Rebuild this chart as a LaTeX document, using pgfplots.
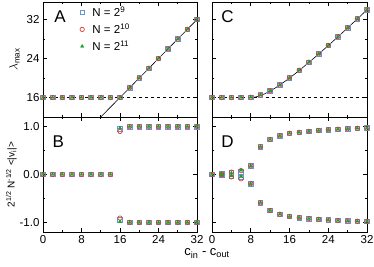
\documentclass[border=0pt]{standalone}
\usepackage{pgfplots}
\pgfplotsset{compat=1.18}
\usepackage{fontspec}
\setmainfont{Liberation Sans}
\definecolor{sqblue}{RGB}{100,150,215}
\definecolor{circred}{RGB}{225,55,55}
\definecolor{trigreen}{RGB}{30,160,40}
\pgfplotsset{
  panel/.style={
    scale only axis, width=154pt, height=115pt,
    xmin=0, xmax=32, xtick={0,8,16,24,32}, minor x tick num=1,
    tick align=inside, tick pos=both,
    major tick length=4pt, minor tick length=2.2pt,
    axis line style={line width=0.9pt}, every tick/.style={line width=0.7pt, black},
    tick label style={font=\fontsize{11.5}{13}\selectfont},
    /pgf/number format/assume math mode=true,
    clip=false,
  },
  s1/.style={only marks, mark=square, mark size=2.3pt, color=sqblue, line width=0.7pt},
  s2/.style={only marks, mark=o, mark size=2.2pt, color=circred, line width=0.7pt},
  s3/.style={only marks, mark=triangle*, mark size=1.9pt, color=trigreen},
}
\begin{document}
\begin{tikzpicture}[x=1pt,y=1pt]
\useasboundingbox (0,0) rectangle (374,266);
% Panel A
\begin{axis}[panel, at={(43pt,149pt)}, anchor=south west,
  ymin=12, ymax=35.6, ytick={16,24,32}, minor y tick num=1, xticklabels={},
  ylabel={$\lambda_{\mathrm{max}}$}, ylabel style={at={(axis description cs:-0.185,0.5)}, anchor=center, font=\fontsize{12}{14}\selectfont},
  legend style={draw=none, fill=none, at={(axis cs:7.0,35.5)}, anchor=north west, font=\fontsize{11.5}{14}\selectfont, row sep=1.5pt, column sep=6pt},
  legend cell align=left]
\addplot[s1] coordinates {(0,16)(2,16)(4,16)(6,16)(8,16)(10,16)(12,16)(14,16)(16,16)(18,18)(20,20)(22,22)(24,24)(26,26)(28,28)(30,30)(32,32)};
\addlegendentry{N = 2\textsuperscript{9}}
\addplot[s2] coordinates {(0,16)(2,16)(4,16)(6,16)(8,16)(10,16)(12,16)(14,16)(16,16)(18,18)(20,20)(22,22)(24,24)(26,26)(28,28)(30,30)(32,32)};
\addlegendentry{N = 2\textsuperscript{10}}
\addplot[s3] coordinates {(0,16)(2,16)(4,16)(6,16)(8,16)(10,16)(12,16)(14,16)(16,16)(18,18)(20,20)(22,22)(24,24)(26,26)(28,28)(30,30)(32,32)};
\addlegendentry{N = 2\textsuperscript{11}}
\addplot[black, dashed, line width=0.6pt, forget plot] coordinates {(0,16)(32,16)};
\addplot[black, line width=0.6pt, forget plot] coordinates {(12,12)(32,32)};
\node[font=\fontsize{17}{17}\selectfont] at (axis description cs:0.11,0.87) {A};
\end{axis}
% Panel B
\begin{axis}[panel, at={(43pt,34pt)}, anchor=south west,
  ymin=-1.2, ymax=1.2, ytick={-1,0,1}, minor y tick num=1,
  yticklabel style={/pgf/number format/.cd, fixed, fixed zerofill, precision=1},
  xticklabel style={inner xsep=1pt},
  ylabel={2\textsuperscript{1/2} N\textsuperscript{-1/2} <|v\textsubscript{i}|>},
  ylabel style={at={(axis description cs:-0.205,0.5)}, anchor=center, font=\fontsize{10}{12}\selectfont}]
\addplot[s1] coordinates {(0,0)(2,0)(4,0)(6,0)(8,0)(10,0)(12,0)(14,0)(16,0.95)(18,1)(20,1)(22,1)(24,1)(26,1)(28,1)(30,1)(32,1)(16,-0.95)(18,-1)(20,-1)(22,-1)(24,-1)(26,-1)(28,-1)(30,-1)(32,-1)};
\addplot[s2] coordinates {(0,0)(2,0)(4,0)(6,0)(8,0)(10,0)(12,0)(14,0)(16,0.90)(18,1)(20,1)(22,1)(24,1)(26,1)(28,1)(30,1)(32,1)(16,-0.91)(18,-1)(20,-1)(22,-1)(24,-1)(26,-1)(28,-1)(30,-1)(32,-1)};
\addplot[s3] coordinates {(0,0)(2,0)(4,0)(6,0)(8,0)(10,0)(12,0)(14,0)(16,0.97)(18,1)(20,1)(22,1)(24,1)(26,1)(28,1)(30,1)(32,1)(16,-0.98)(18,-1)(20,-1)(22,-1)(24,-1)(26,-1)(28,-1)(30,-1)(32,-1)};
\node[font=\fontsize{17}{17}\selectfont] at (axis description cs:0.10,0.79) {B};
\end{axis}
% Panel C
\begin{axis}[panel, width=155pt, at={(212pt,149pt)}, anchor=south west,
  ymin=12, ymax=35.6, ytick={16,24,32}, minor y tick num=1, xticklabels={}, yticklabels={}]
\addplot[black, dashed, line width=0.6pt] coordinates {(0,16)(32,16)};
\addplot[black, line width=0.6pt] coordinates {(8,16)(9,16.11)(10,16.4)(11,16.82)(12,17.33)(13,17.92)(14,18.57)(15,19.27)(16,20)(17,20.76)(18,21.56)(19,22.37)(20,23.2)(21,24.05)(22,24.91)(23,25.78)(24,26.67)(25,27.56)(26,28.46)(27,29.37)(28,30.29)(29,31.21)(30,32.13)(31,33.06)(32,34)};
\addplot[s1] coordinates {(0,16)(2,16)(4,16)(6,16)(8,16.05)(10,16.5)(12,17.4)(14,18.6)(16,20.05)(18,21.6)(20,23.25)(22,24.95)(24,26.7)(26,28.5)(28,30.3)(30,32.15)(32,34)};
\addplot[s2] coordinates {(0,16)(2,16)(4,16)(6,16)(8,16.05)(10,16.5)(12,17.4)(14,18.6)(16,20.05)(18,21.6)(20,23.25)(22,24.95)(24,26.7)(26,28.5)(28,30.3)(30,32.15)(32,34)};
\addplot[s3] coordinates {(0,16)(2,16)(4,16)(6,16)(8,16.05)(10,16.5)(12,17.4)(14,18.6)(16,20.05)(18,21.6)(20,23.25)(22,24.95)(24,26.7)(26,28.5)(28,30.3)(30,32.15)(32,34)};
\node[font=\fontsize{17}{17}\selectfont] at (axis description cs:0.10,0.87) {C};
\end{axis}
% Panel D
\begin{axis}[panel, width=155pt, at={(212pt,34pt)}, anchor=south west,
  ymin=-1.2, ymax=1.2, ytick={-1,0,1}, minor y tick num=1, yticklabels={},
  xticklabel style={inner xsep=1pt}]
\addplot[s1] coordinates {(0,0)(2,0.01)(4,0.03)(6,0.06)(8,0.18)(10,0.58)(12,0.73)(14,0.81)(16,0.86)(18,0.88)(20,0.90)(22,0.92)(24,0.935)(26,0.945)(28,0.955)(30,0.965)(32,0.97)
 (2,-0.01)(4,-0.03)(6,-0.06)(8,-0.19)(10,-0.59)(12,-0.75)(14,-0.83)(16,-0.875)(18,-0.90)(20,-0.92)(22,-0.935)(24,-0.95)(26,-0.96)(28,-0.97)(30,-0.975)(32,-0.98)};
\addplot[s2] coordinates {(0,0)(2,0.01)(4,0.05)(6,0.08)(8,0.18)(10,0.58)(12,0.73)(14,0.81)(16,0.86)(18,0.88)(20,0.90)(22,0.92)(24,0.935)(26,0.945)(28,0.955)(30,0.965)(32,0.97)
 (2,-0.01)(4,-0.05)(6,-0.09)(8,-0.19)(10,-0.59)(12,-0.75)(14,-0.83)(16,-0.875)(18,-0.90)(20,-0.92)(22,-0.935)(24,-0.95)(26,-0.96)(28,-0.97)(30,-0.975)(32,-0.98)};
\addplot[s3] coordinates {(0,0)(2,0.01)(4,0.03)(6,0.09)(8,0.18)(10,0.58)(12,0.73)(14,0.81)(16,0.86)(18,0.88)(20,0.90)(22,0.92)(24,0.935)(26,0.945)(28,0.955)(30,0.965)(32,0.97)
 (2,-0.01)(4,-0.03)(6,-0.04)(8,-0.19)(10,-0.59)(12,-0.75)(14,-0.83)(16,-0.875)(18,-0.90)(20,-0.92)(22,-0.935)(24,-0.95)(26,-0.96)(28,-0.97)(30,-0.975)(32,-0.98)};
\node[font=\fontsize{17}{17}\selectfont] at (axis description cs:0.10,0.79) {D};
\end{axis}
\node[font=\fontsize{13}{15}\selectfont] at (207,12.5) {c\textsubscript{in} - c\textsubscript{out}};
\end{tikzpicture}
\end{document}
